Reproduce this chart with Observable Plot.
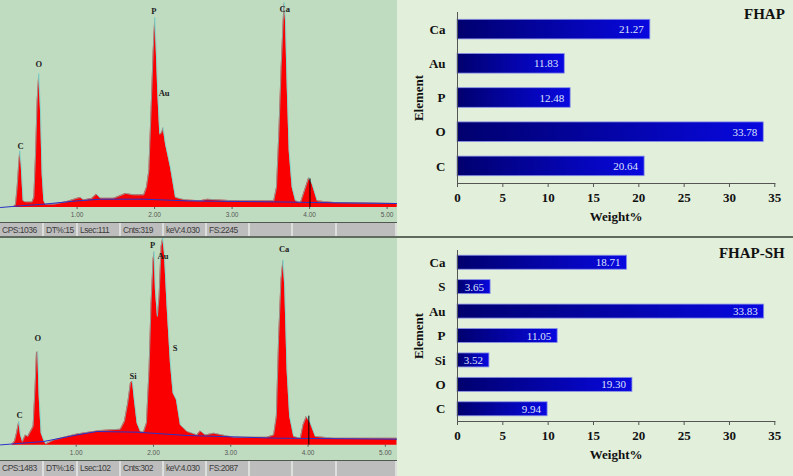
<!DOCTYPE html>
<html>
<head>
<meta charset="utf-8">
<script src="https://cdn.jsdelivr.net/npm/d3@7"></script>
<script src="https://cdn.jsdelivr.net/npm/@observablehq/plot@0.6"></script>
<style>
  html, body { margin: 0; padding: 0; background: #e2efda; overflow: hidden; }
  #page { position: relative; width: 793px; height: 476px; overflow: hidden; background: #e2efda; }
  .slot { position: absolute; }
  .slot svg { display: block; }
  #s1 { left: 0; top: 0; }
  #s2 { left: 0; top: 238px; }
  #b1 { left: 397px; top: 0; }
  #b2 { left: 397px; top: 237px; }
  .status { position: absolute; left: 0; width: 397px; box-sizing: border-box;
    display: grid; grid-template-columns: 44px 34px 43px 43px 43px 43px 43px 44px 1fr;
    background: #bdbdbd; border-top: 1px solid #4f574f;
    font: 8.5px "Liberation Sans", sans-serif; color: #3c3c3c; }
  .status div { box-sizing: border-box; border-right: 2px solid #dcdfdc; padding-left: 2px; line-height: 14px; white-space: nowrap; overflow: hidden; letter-spacing: -0.5px; }
  #st1 { top: 222px; height: 15px; }
  #st2 { top: 460px; height: 16px; }
  .rule { position: absolute; left: 0; width: 793px; height: 1.5px; background: #5f6b5f; }
</style>
</head>
<body>
<div id="page">
  <div class="slot" id="s1"></div>
  <div class="slot" id="s2"></div>
  <div class="slot" id="b1"></div>
  <div class="slot" id="b2"></div>
  <div class="status" id="st1"></div>
  <div class="status" id="st2"></div>
  <div class="rule" style="top:236px"></div>
</div>
<script>
// ---- Spectrum FHAP ----
const keV1 = [.184,.205,.227,.244,.261,.278,.304,.334,.420,.442,.463,.485,.506,.528,.549,.571,.592,.700,.872,1.001,1.044,1.087,1.194,1.250,1.302,1.474,1.625,1.732,1.861,1.895,1.926,1.956,1.982,2.003,2.020,2.042,2.067,2.093,2.110,2.141,2.205,2.270,2.356,2.420,2.592,2.678,3.022,3.538,3.573,3.603,3.633,3.659,3.672,3.689,3.710,3.736,3.775,3.818,3.883,3.926,3.990,4.033,4.098,4.313,5.130];
const counts1 = [7,29,217,434,615,470,72,61,61,108,542,1157,1453,1048,362,72,36,36,65,101,108,80,101,145,101,101,152,137,137,217,398,1085,1699,2061,1735,1229,795,813,868,687,434,108,90,80,72,90,72,72,217,795,1518,2024,2223,2024,1338,615,217,72,54,163,325,253,72,54,43];
const bgKeV1 = [.012,.270,.571,1.001,1.302,1.861,2.420,3.538,4.313,5.130];
const bgCounts1 = [0,18,36,72,90,90,72,61,51,43];
const labels1 = ["C","O","P","Au","Ca"];
const labelKeV1 = [.27,.506,1.99,2.123,3.68];
const labelCounts1 = [665,1555,2133,1236,2151];
const status1 = ["CPS:1036","DT%:15","Lsec:111","Cnts:319","keV:4.030","FS:2245","","",""];

// ---- Spectrum FHAP-SH ----
const keV2 = [.172,.202,.228,.258,.279,.305,.344,.374,.409,.443,.469,.486,.503,.521,.547,.581,.607,.710,.883,1.012,1.228,1.314,1.572,1.624,1.667,1.702,1.728,1.753,1.788,1.831,1.874,1.909,1.943,1.969,1.995,2.008,2.025,2.051,2.073,2.099,2.120,2.141,2.176,2.219,2.254,2.297,2.348,2.435,2.564,2.607,2.672,2.779,3.038,3.469,3.555,3.590,3.620,3.650,3.676,3.698,3.728,3.762,3.814,3.900,3.935,3.978,4.030,4.094,4.331,5.150];
const counts2 = [13,37,120,237,103,37,103,87,137,187,587,920,937,487,120,47,13,53,87,113,137,147,160,237,420,620,637,453,220,137,137,220,753,1420,1853,1937,1553,1287,1487,1987,2070,1920,1387,820,520,453,203,137,103,143,103,120,80,80,103,287,1087,1653,1853,1587,753,287,87,70,203,287,220,87,70,70];
const bgKeV2 = [.021,.581,1.012,1.271,1.788,2.435,3.598,5.150];
const bgCounts2 = [3,37,103,137,130,97,70,60];
const labels2 = ["C","O","Si","P","Au","S","Ca"];
const labelKeV2 = [.266,.503,1.736,1.99,2.124,2.28,3.69];
const labelCounts2 = [303,1070,693,2003,1887,970,1960];
const status2 = ["CPS:1483","DT%:16","Lsec:102","Cnts:302","keV:4.030","FS:2087","","",""];

// ---- Weight% bars ----
const elements1 = ["Ca","Au","P","O","C"];
const weights1 = [21.27,11.83,12.48,33.78,20.64];
const elements2 = ["Ca","S","Au","P","Si","O","C"];
const weights2 = [18.71,3.65,33.83,11.05,3.52,19.30,9.94];
const weightTicks = [0,5,10,15,20,25,30,35];
const keVTicks = [1,2,3,4,5];

function rows(a, b) { return a.map((v, i) => ({a: v, b: b[i]})); }

function spectrum(o) {
  return Plot.plot({
    width: 397, height: o.height, marginTop: 0, marginLeft: 0, marginRight: 0, marginBottom: o.marginBottom,
    style: {background: "#c0dcc0", fontFamily: "'Liberation Sans', sans-serif", overflow: "hidden"},
    x: {domain: o.xDomain, label: null},
    y: {domain: [0, o.fs], label: null, axis: null},
    marks: [
      Plot.areaY(rows(o.keV, o.counts), {x: "a", y: "b", fill: "#fb0000"}),
      Plot.lineY(rows(o.keV, o.counts), {x: "a", y: "b", stroke: "#68d4d0", strokeWidth: 0.7}),
      Plot.lineY(rows(o.bgKeV, o.bgCounts), {x: "a", y: "b", stroke: "#2a32c8", strokeWidth: 1}),
      Plot.ruleX([o.cursor], {y1: 0, y2: o.cursorTop, stroke: "#000", strokeWidth: 1}),
      Plot.text(rows(o.labels, rows(o.labelKeV, o.labelCounts)), {
        x: d => d.b.a, y: d => d.b.b, text: "a",
        fontFamily: "'Liberation Serif', serif", fontSize: 8.5, fontWeight: "bold", fill: "#222"
      }),
      Plot.axisX({ticks: keVTicks, tickFormat: ".2f", tickSize: 2, tickPadding: 3, fontSize: 6.5, label: null, color: "#555", stroke: "#555"})
    ]
  });
}

function bars(o) {
  const gid = o.gid;
  return Plot.plot({
    width: 396, height: o.height, marginTop: o.marginTop, marginBottom: o.marginBottom, marginLeft: 60, marginRight: 18.7,
    style: {background: "#e2efda", fontFamily: "'Liberation Serif', serif", color: "#111", overflow: "visible"},
    x: {domain: [0, 35], label: null},
    y: {domain: o.elements, label: null, paddingInner: 0.427, paddingOuter: 0.2135, round: false},
    marks: [
      () => {
        const svg = d3.create("svg:defs");
        const g = svg.append("linearGradient").attr("id", gid);
        g.append("stop").attr("offset", "0%").attr("stop-color", "#00006e");
        g.append("stop").attr("offset", "100%").attr("stop-color", "#0808e0");
        return svg.node();
      },
      Plot.barX(rows(o.elements, o.weights), {x: "b", y: "a", fill: `url(#${gid})`, stroke: "#8a92e8", strokeWidth: 0.8}),
      Plot.text(rows(o.elements, o.weights), {
        x: "b", y: "a", text: d => d.b.toFixed(2), textAnchor: "end", dx: -6.5,
        fill: "#dfe4fa", fontSize: 11
      }),
      Plot.frame({anchor: "left", stroke: "#555"}),
      Plot.frame({anchor: "bottom", stroke: "#555"}),
      Plot.axisX({ticks: weightTicks, tickSize: 4, tickPadding: 5, fontSize: 13, fontWeight: "bold", stroke: "#555",
        label: "Weight%", labelAnchor: "center", labelArrow: "none", labelOffset: o.labelOffset}),
      Plot.axisY({tickSize: 0, tickPadding: 12, fontSize: 13, fontWeight: "bold", textAnchor: "end",
        label: "Element", labelAnchor: "center", labelArrow: "none", labelOffset: 44}),
      Plot.text([o.title], {frameAnchor: "top-right", text: d => d, dx: 10, dy: o.titleDy, fontSize: 15, fontWeight: "bold", textAnchor: "end", fill: "#111"})
    ]
  });
}

document.getElementById("s1").append(spectrum({
  height: 222, marginBottom: 15, xDomain: [0.012, 5.134], fs: 2245,
  keV: keV1, counts: counts1, bgKeV: bgKeV1, bgCounts: bgCounts1, cursor: 4.005, cursorTop: 310,
  labels: labels1, labelKeV: labelKeV1, labelCounts: labelCounts1
}));
document.getElementById("s2").append(spectrum({
  height: 222, marginBottom: 15.3, xDomain: [0.021, 5.157], fs: 2066,
  keV: keV2, counts: counts2, bgKeV: bgKeV2, bgCounts: bgCounts2, cursor: 4.01, cursorTop: 290,
  labels: labels2, labelKeV: labelKeV2, labelCounts: labelCounts2
}));
document.getElementById("b1").append(bars({
  height: 236, marginTop: 12, marginBottom: 53, gid: "g1",
  elements: elements1, weights: weights1, title: "FHAP", titleDy: -4, labelOffset: 37
}));
document.getElementById("b2").append(bars({
  height: 239, marginTop: 13, marginBottom: 55, gid: "g2",
  elements: elements2, weights: weights2, title: "FHAP-SH", titleDy: -3, labelOffset: 37
}));

function fillStatus(id, cells) {
  const el = document.getElementById(id);
  cells.forEach(t => { const d = document.createElement("div"); d.textContent = t; el.append(d); });
}
fillStatus("st1", status1);
fillStatus("st2", status2);
</script>
</body>
</html>
